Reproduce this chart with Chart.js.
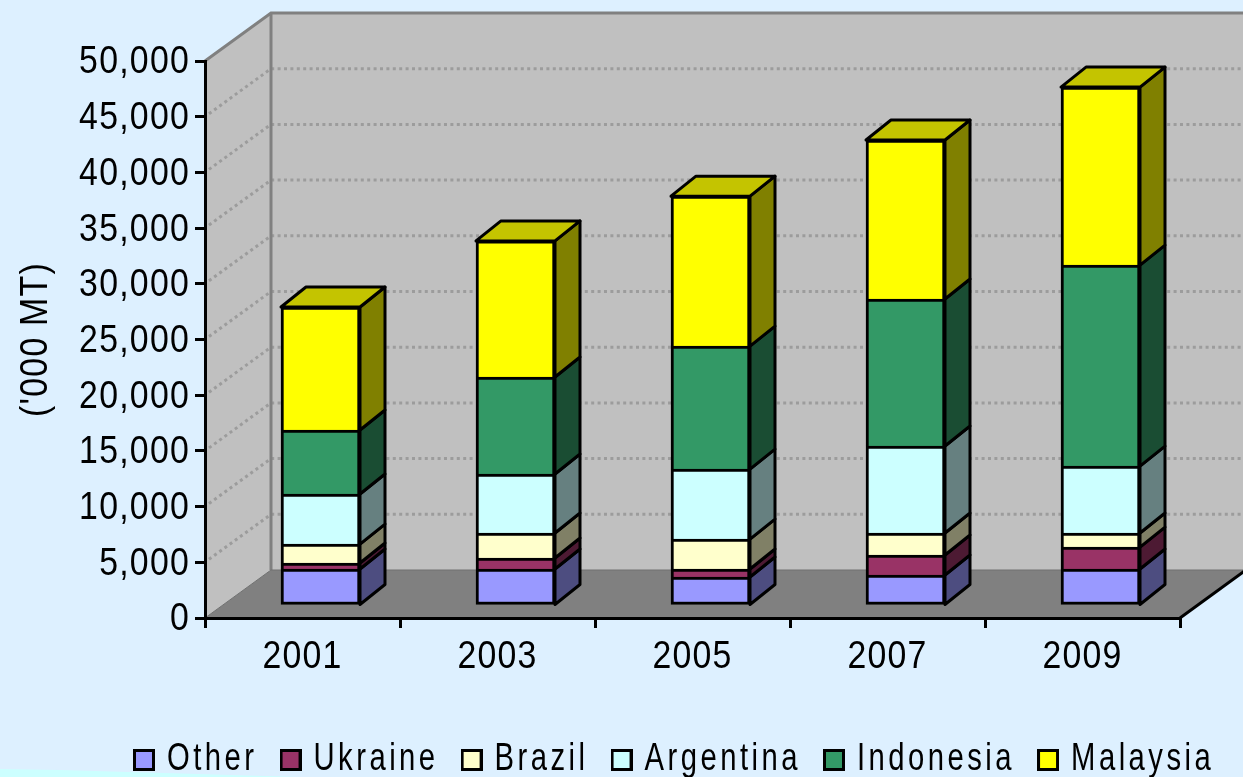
<!DOCTYPE html>
<html>
<head>
<meta charset="utf-8">
<style>
  html, body { margin: 0; padding: 0; background: #ddf0ff; overflow: hidden; }
  canvas { display: block; }
</style>
<script src="https://cdn.jsdelivr.net/npm/chart.js@4/dist/chart.umd.js"></script>
</head>
<body>
<canvas id="chart" width="1243" height="777"></canvas>
<script>
var years     = ['2001', '2003', '2005', '2007', '2009'];
var other     = [3320, 3320, 2600, 2780, 3320];
var ukraine   = [540, 990, 720, 1800, 1970];
var brazil    = [1700, 2240, 2690, 1970, 1260];
var argentina = [4490, 5300, 6280, 7810, 6010];
var indonesia = [5750, 8710, 11040, 13200, 18040];
var malaysia  = [11040, 12210, 13460, 14270, 15980];

var seriesNames  = ['Other', 'Ukraine', 'Brazil', 'Argentina', 'Indonesia', 'Malaysia'];
var seriesValues = [other, ukraine, brazil, argentina, indonesia, malaysia];
var seriesColors = ['#9999ff', '#993366', '#ffffcc', '#ccffff', '#339966', '#ffff00'];

var FONT = '"Liberation Sans", sans-serif';

// profundidade do "3D": parede de fundo e deslocamento das barras
var WALL_DX = 66, WALL_DY = -48;
var BAR_DX = 18, BAR_DY = -12;
var SIDE_DX = 25, SIDE_DY = -20;

// o texto do original e mais estreito que a fonte: escala horizontal no canvas
var textScale = 0.89;
var AXIS_TEXT = { scale: 0.89, spacing: '1.4px' };
var LEGEND_TEXT = { scale: 0.77, spacing: '4.5px' };

function useText(ctx, t) {
    textScale = t.scale;
    ctx.letterSpacing = t.spacing;
}

function narrowText(ctx) {
    var fill = ctx.fillText.bind(ctx);
    var measure = ctx.measureText.bind(ctx);
    ctx.fillText = function (text, x, y) {
        ctx.save();
        ctx.translate(x, y);
        ctx.scale(textScale, 1);
        fill(text, 0, 0);
        ctx.restore();
    };
    ctx.measureText = function (text) {
        return { width: measure(text).width * textScale };
    };
}

function shade(hex, f) {
    var n = parseInt(hex.slice(1), 16);
    return 'rgb(' + Math.round((n >> 16) * f) + ',' +
        Math.round(((n >> 8) & 255) * f) + ',' + Math.round((n & 255) * f) + ')';
}

function poly(ctx, pts, fill, stroke, width) {
    ctx.beginPath();
    pts.forEach(function (p, i) {
        if (i === 0) ctx.moveTo(p[0], p[1]); else ctx.lineTo(p[0], p[1]);
    });
    ctx.closePath();
    if (fill) { ctx.fillStyle = fill; ctx.fill(); }
    if (stroke) { ctx.strokeStyle = stroke; ctx.lineWidth = width; ctx.lineJoin = 'round'; ctx.stroke(); }
}

// quadradinho da legenda
function swatch(color) {
    var c = document.createElement('canvas');
    c.width = 22; c.height = 22;
    var g = c.getContext('2d');
    g.fillStyle = color;
    g.fillRect(0, 0, 22, 22);
    g.strokeStyle = '#000';
    g.lineWidth = 3;
    g.strokeRect(1.5, 1.5, 19, 19);
    return c;
}

var wallsPlugin = {
    id: 'walls',
    beforeLayout: function (chart) {
        var lg = chart.legend;
        useText(chart.ctx, AXIS_TEXT);
        if (lg && !lg._spaced) {
            // legenda tem letras mais espacadas que os eixos
            lg._spaced = true;
            ['fit', 'draw'].forEach(function (m) {
                var orig = lg[m];
                lg[m] = function () {
                    useText(chart.ctx, LEGEND_TEXT);
                    var r = orig.apply(this, arguments);
                    useText(chart.ctx, AXIS_TEXT);
                    return r;
                };
            });
        }
    },
    afterLayout: function (chart) {
        var lg = chart.legend;
        lg.left = 111; lg.right = 1500;
        lg.top = 741 - lg.options.labels.padding;
    },
    beforeDraw: function (chart) {
        var ctx = chart.ctx, a = chart.chartArea, y = chart.scales.y;
        var l = a.left, r = a.right, t = a.top, b = a.bottom;
        ctx.save();
        // faixa clara no canto inferior
        poly(ctx, [[0, 769], [60, 770], [300, 777], [0, 777]], '#ccffff');
        // paredes
        poly(ctx, [[l, t], [l + WALL_DX, t + WALL_DY], [l + WALL_DX, b + WALL_DY], [l, b]], '#c0c0c0');
        poly(ctx, [[l + WALL_DX, t + WALL_DY], [r + WALL_DX, t + WALL_DY], [r + WALL_DX, b + WALL_DY], [l + WALL_DX, b + WALL_DY]], '#c0c0c0');
        // chao
        poly(ctx, [[l, b], [l + WALL_DX, b + WALL_DY], [r + WALL_DX, b + WALL_DY], [r, b]], '#808080');
        // grade pontilhada
        ctx.strokeStyle = '#9c9c9c';
        ctx.lineWidth = 3;
        ctx.setLineDash([3, 3.4]);
        y.ticks.forEach(function (tk) {
            if (tk.value === y.min || tk.value === y.max) return;
            var py = y.getPixelForValue(tk.value);
            ctx.beginPath();
            ctx.moveTo(l + 4, py - 3);
            ctx.lineTo(l + WALL_DX, py + WALL_DY);
            ctx.lineTo(r + WALL_DX, py + WALL_DY);
            ctx.stroke();
        });
        ctx.setLineDash([]);
        // arestas cinza
        ctx.strokeStyle = '#808080';
        ctx.lineWidth = 3;
        ctx.beginPath();
        ctx.moveTo(l, t);
        ctx.lineTo(l + WALL_DX, t + WALL_DY);
        ctx.lineTo(r + WALL_DX, t + WALL_DY);
        ctx.moveTo(l + WALL_DX, t + WALL_DY);
        ctx.lineTo(l + WALL_DX, b + WALL_DY);
        ctx.stroke();
        ctx.strokeStyle = '#707070';
        ctx.lineWidth = 1;
        ctx.beginPath();
        ctx.moveTo(l, b);
        ctx.lineTo(l + WALL_DX, b + WALL_DY);
        ctx.lineTo(r + WALL_DX, b + WALL_DY);
        ctx.stroke();
        // aresta direita do chao
        ctx.strokeStyle = '#000';
        ctx.lineWidth = 3;
        ctx.beginPath();
        ctx.moveTo(r, b);
        ctx.lineTo(r + WALL_DX, b + WALL_DY);
        ctx.stroke();
        ctx.restore();
    },
    beforeDatasetsDraw: function (chart) {
        var ctx = chart.ctx;
        ctx.save();
        ctx.translate(BAR_DX, BAR_DY);
        // laterais e topo, a frente fica por conta da propria barra
        seriesColors.forEach(function (color, i) {
            chart.getDatasetMeta(i).data.forEach(function (bar) {
                var p = bar.getProps(['x', 'y', 'base', 'width'], true);
                var rx = p.x + p.width / 2, lx = p.x - p.width / 2;
                poly(ctx, [[rx, p.y], [rx + SIDE_DX, p.y + SIDE_DY], [rx + SIDE_DX, p.base + SIDE_DY], [rx, p.base]],
                    shade(color, 0.5), '#000', 3);
                if (i === seriesColors.length - 1) {
                    poly(ctx, [[lx, p.y], [lx + SIDE_DX, p.y + SIDE_DY], [rx + SIDE_DX, p.y + SIDE_DY], [rx, p.y]],
                        shade(color, 0.77), '#000', 3);
                }
            });
        });
    },
    afterDatasetsDraw: function (chart) {
        chart.ctx.restore();
    }
};

var canvas = document.getElementById('chart');
narrowText(canvas.getContext('2d'));

new Chart(canvas, {
    type: 'bar',
    data: {
        labels: years,
        datasets: seriesNames.map(function (name, i) {
            return {
                label: name,
                data: seriesValues[i],
                backgroundColor: seriesColors[i],
                borderColor: '#000',
                // sem borda de baixo nos empilhados, senao a linha fica dobrada
                borderWidth: { top: 3, left: 3, right: 3, bottom: i === 0 ? 3 : 0 },
                borderSkipped: false,
                barThickness: 79
            };
        })
    },
    options: {
        responsive: false,
        animation: false,
        layout: { padding: { top: 61, right: 63, left: 0, bottom: 0 } },
        plugins: {
            tooltip: { enabled: false },
            legend: {
                position: 'bottom',
                align: 'start',
                labels: {
                    color: '#000',
                    font: { family: FONT, size: 38 },
                    boxWidth: 8,
                    padding: 29,
                    usePointStyle: true,
                    generateLabels: function (chart) {
                        return Chart.defaults.plugins.legend.labels.generateLabels(chart).map(function (item, i) {
                            item.pointStyle = swatch(seriesColors[i]);
                            return item;
                        });
                    }
                }
            }
        },
        scales: {
            x: {
                stacked: true,
                afterFit: function (s) { s.height = 159 - s.chart.legend.height; },
                grid: { offset: true, drawOnChartArea: false, color: '#000', lineWidth: 3, tickLength: 10 },
                border: { color: '#000', width: 3 },
                ticks: { color: '#000', padding: 7, maxRotation: 0, font: { family: FONT, size: 38 } }
            },
            y: {
                stacked: true,
                min: 0,
                max: 50000,
                afterFit: function (s) { s.width = 205; },
                grid: { drawOnChartArea: false, color: '#000', lineWidth: 3, tickLength: 10 },
                border: { color: '#000', width: 3 },
                title: { display: true, text: "('000 MT)", color: '#000', padding: 14, font: { family: FONT, size: 38 } },
                ticks: {
                    stepSize: 5000,
                    color: '#000',
                    padding: 5,
                    labelOffset: 2,
                    font: { family: FONT, size: 38 },
                    callback: function (v) { return v.toLocaleString('en-US'); }
                }
            }
        }
    },
    plugins: [wallsPlugin]
});
</script>
</body>
</html>
